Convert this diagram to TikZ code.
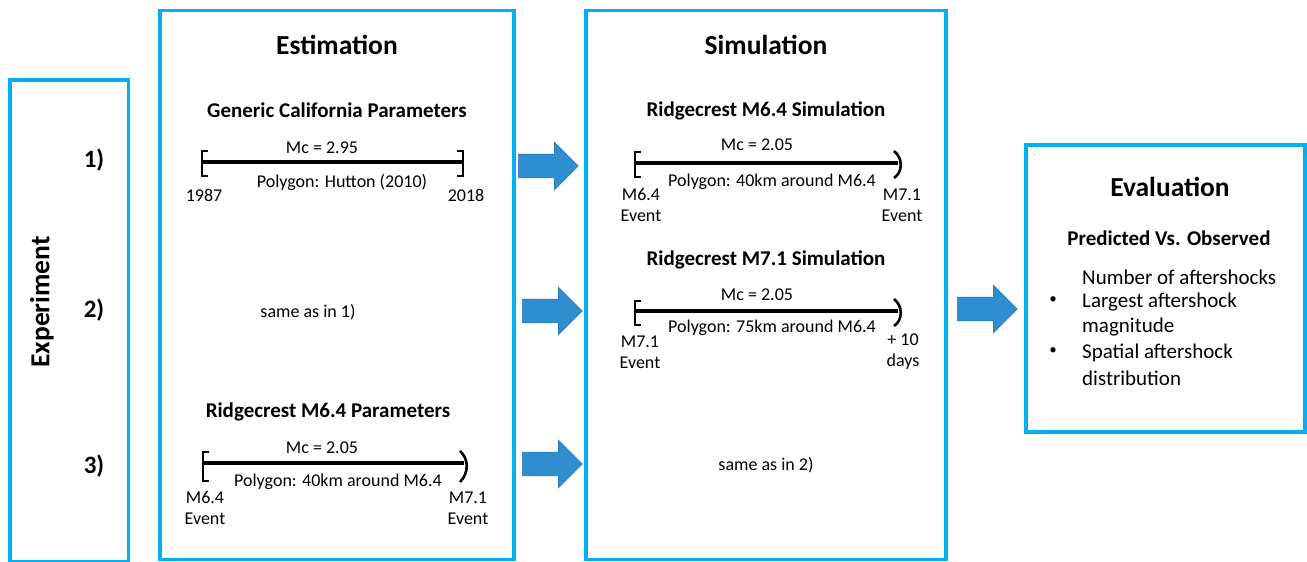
\documentclass[tikz,border=0pt]{standalone}
\usepackage{fontspec}
\setmainfont{Carlito}
\usetikzlibrary{shapes.arrows}
\definecolor{boxcyan}{HTML}{00B0F0}
\definecolor{arrfill}{HTML}{2E8ED0}
\definecolor{arrline}{HTML}{2A7AB8}
\begin{document}
\begin{tikzpicture}[x=1pt,y=-1pt,
  panel/.style={draw=boxcyan, line width=3.5pt, fill=white, inner sep=0pt},
  ttl/.style={font=\bfseries\fontsize{27.5}{31}\selectfont, inner sep=0pt},
  num/.style={font=\bfseries\fontsize{25}{29}\selectfont, inner sep=0pt},
  sub/.style={font=\bfseries\fontsize{21}{25}\selectfont, inner sep=0pt},
  lbl/.style={font=\fontsize{18}{21}\selectfont, inner sep=0pt, align=center},
  evl/.style={font=\fontsize{21}{25}\selectfont, inner sep=0pt, anchor=west},
  bul/.style={font=\fontsize{15}{18}\selectfont, inner sep=0pt},
  tline/.style={line width=3.6pt},
  brk/.style={line width=2.6pt},
  barrow/.style={single arrow, fill=arrfill, draw=arrline, line width=0.6pt,
     minimum height=60pt, minimum width=0pt, inner xsep=0pt, inner ysep=11.5pt,
     single arrow head extend=12pt, single arrow tip angle=90, anchor=tail}
]
\useasboundingbox (0,0) rectangle (1307,562);
\fill[white] (0,0) rectangle (1307,562);

% panels
\node[panel, minimum width=118.5pt, minimum height=482pt] (exp) at (69.25,321) {};
\node[panel, minimum width=354pt, minimum height=549pt] (est) at (337,285) {};
\node[panel, minimum width=360pt, minimum height=549pt] (sim) at (766,285) {};
\node[panel, minimum width=279pt, minimum height=287pt] (eva) at (1165.5,288.5) {};

% experiment column
\node[ttl, rotate=90] (exptitle) at (42,302) {Experiment};
\node[num] (n1) at (94,160) {1)};
\node[num] (n2) at (94,310) {2)};
\node[num] (n3) at (94,466) {3)};

% estimation
\node[ttl] (esttitle) at (337,45) {Estimation};
\node[sub] (gcp) at (337,110) {Generic California Parameters};
\coordinate (e1a) at (202,162);
\coordinate (e1b) at (463,162);
\draw[tline] (e1a) -- (e1b);
\draw[brk] (208,151) -- (202,151) -- (202,176) -- (208,176);
\draw[brk] (457,151) -- (463,151) -- (463,176) -- (457,176);
\node[lbl] (e1mc) at (322,148) {Mc = 2.95};
\node[lbl] (e1poly) at (342,182) {Polygon: Hutton (2010)};
\node[lbl] (e1l) at (204,195) {1987};
\node[lbl] (e1r) at (466,195) {2018};

\node[lbl] (same1) at (308,312) {same as in 1)};

\node[sub] (rpp) at (328,412) {Ridgecrest M6.4 Parameters};
\coordinate (e3a) at (203,463);
\coordinate (e3b) at (464,463);
\draw[tline] (e3a) -- (e3b);
\draw[brk] (209,452) -- (203,452) -- (203,481) -- (209,481);
\draw[brk] (460,451) .. controls (469,459) and (469,473) .. (460,482);
\node[lbl] (e3mc) at (322,448) {Mc = 2.05};
\node[lbl] (e3poly) at (338,482) {Polygon: 40km around M6.4};
\node[lbl] (e3l) at (205,508) {M6.4\\Event};
\node[lbl] (e3r) at (468,508) {M7.1\\Event};

% simulation
\node[ttl] (simtitle) at (766,45) {Simulation};
\node[sub] (rs64) at (766,111) {Ridgecrest M6.4 Simulation};
\coordinate (s1a) at (635,163);
\coordinate (s1b) at (898,163);
\draw[tline] (s1a) -- (s1b);
\draw[brk] (641,152) -- (635,152) -- (635,177) -- (641,177);
\draw[brk] (894,151) .. controls (903,158) and (903,172) .. (894,178);
\node[lbl] (s1mc) at (757,145) {Mc = 2.05};
\node[lbl] (s1poly) at (772,182) {Polygon: 40km around M6.4};
\node[lbl] (s1l) at (641,205) {M6.4\\Event};
\node[lbl] (s1r) at (902,205) {M7.1\\Event};

\node[sub] (rs71) at (766,260) {Ridgecrest M7.1 Simulation};
\coordinate (s2a) at (635,311);
\coordinate (s2b) at (898,311);
\draw[tline] (s2a) -- (s2b);
\draw[brk] (641,301) -- (635,301) -- (635,325) -- (641,325);
\draw[brk] (894,299) .. controls (903,306) and (903,320) .. (894,326);
\node[lbl] (s2mc) at (757,295) {Mc = 2.05};
\node[lbl] (s2poly) at (772,328) {Polygon: 75km around M6.4};
\node[lbl] (s2l) at (640,352) {M7.1\\Event};
\node[lbl] (s2r) at (903,352) {+ 10\\days};

\node[lbl] (same2) at (766,465) {same as in 2)};

% evaluation
\node[ttl] (evatitle) at (1170,187) {Evaluation};
\node[sub] (pvo) at (1169,238) {Predicted Vs. Observed};
\node[evl] (ev1) at (1082,277) {Number of aftershocks};
\node[evl] (ev2) at (1082,302) {Largest aftershock};
\node[evl] (ev3) at (1082,327) {magnitude};
\node[evl] (ev4) at (1082,353) {Spatial aftershock};
\node[evl] (ev5) at (1082,378) {distribution};
\node[bul] (b2) at (1053,300) {•};
\node[bul] (b4) at (1053,351) {•};

% block arrows
\node[barrow] (a1) at (518,166) {};
\node[barrow] (a2) at (522,311) {};
\node[barrow] (a3) at (522,464) {};
\node[barrow] (a4) at (957,309) {};
\end{tikzpicture}
\end{document}
